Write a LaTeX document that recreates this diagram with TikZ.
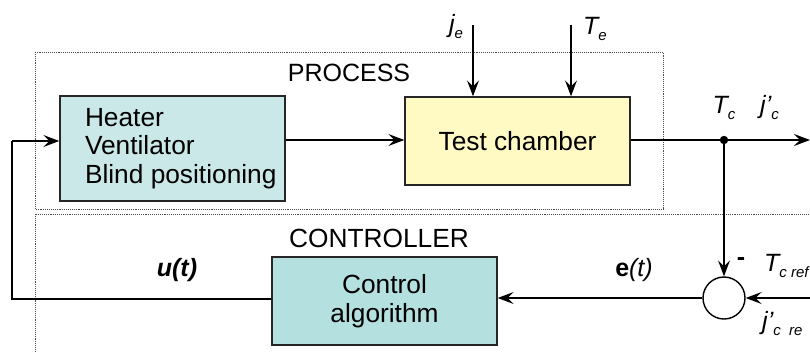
\documentclass[tikz,border=0pt]{standalone}
\usepackage{fontspec}
\setmainfont{Liberation Sans}
\usetikzlibrary{arrows.meta}
\definecolor{heatfill}{RGB}{203,232,232}
\definecolor{chamberfill}{RGB}{255,250,196}
\definecolor{ctrlfill}{RGB}{180,224,224}
\newcommand{\bigtxt}{\fontsize{25}{28.75}\selectfont}
\newcommand{\blocktxt}{\fontsize{26.3}{28.75}\selectfont}
\newcommand{\subtxt}{\fontsize{15}{15}\selectfont}
\tikzset{
  block/.style={draw=black!85, line width=1.4pt, minimum width=225pt, inner sep=0pt, font=\blocktxt},
  region/.style={draw=black!70, densely dotted, line width=0.9pt},
  wire/.style={line width=1.4pt},
  flow/.style={wire, -{Stealth[length=16pt,width=12pt,inset=6pt]}},
  lbl/.style={font=\bigtxt, inner sep=0pt},
}
\begin{document}
\begin{tikzpicture}[x=1pt,y=-1pt]
\useasboundingbox (0,0) rectangle (810,351);
\clip (0,0) rectangle (810,351);
% process and controller regions
\draw[region] (35,52) rectangle (663,209);
\draw[region] (35,214) rectangle (840,380);
\node[lbl] (proclbl) at (349,73) {PROCESS};
\node[lbl, font=\blocktxt] (ctrllbl) at (379,238) {CONTROLLER};
% blocks
\node[block, fill=heatfill, minimum height=105pt, align=flush left, text width=175pt] (act) at (172.5,148.5)
  {\hbadness=10000 \hfuzz=100pt Heater\\Ventilator\\\mbox{Blind positioning}};
\node[block, fill=chamberfill, minimum height=88pt] (cham) at (517.5,141) {Test chamber};
\node[block, fill=ctrlfill, minimum height=88pt, align=center] (alg) at (384.5,301) {Control\\algorithm};
% summing junction
\node[draw, line width=1.4pt, circle, minimum size=42pt, inner sep=0pt] (sum) at (724,298) {};
\fill (724,140) circle (4.2pt) coordinate (tap);
% disturbance inputs
\coordinate (jein) at (473,25);
\coordinate (tein) at (571,25);
\draw[flow] (jein) -- (jein |- cham.north);
\draw[flow] (tein) -- (tein |- cham.north);
\node[lbl] (jelbl) at (456,27) {\itshape j\raisebox{-6pt}{\subtxt e}};
\node[lbl] (telbl) at (595,29) {\itshape T\raisebox{-6pt}{\subtxt e}};
% forward path
\draw[flow] (act.east |- 0,140) -- (cham.west |- 0,140);
\coordinate (outend) at (810,140);
\draw[flow] (cham.east |- 0,140) -- (outend);
\draw[flow] (tap) -- (sum.north);
\node[lbl] (tclbl) at (724,108) {\itshape T\raisebox{-6pt}{\subtxt c}};
\node[lbl, anchor=west] (jclbl) at (760,108) {\itshape j'\raisebox{-6pt}{\subtxt c}};
% reference input
\coordinate (refin) at (812,298);
\draw[flow] (refin) -- (sum.east);
\node[lbl, font=\bigtxt\bfseries] (minus) at (741,262) {-};
\node[lbl, anchor=west] (tref) at (764,266) {\itshape T\raisebox{-6pt}{\subtxt c ref}};
\node[lbl, anchor=west] (jref) at (762,324) {\itshape j'\raisebox{-6pt}{\subtxt c \ re}};
% error to controller
\draw[flow] (sum.west) -- (alg.east |- sum.west);
\node[lbl] (elbl) at (634,270) {\textbf{e}\textit{(t)}};
% feedback of the control signal
\coordinate (lcorner) at (12,299);
\coordinate (ucorner) at (12,141);
\draw[wire] (alg.west |- 0,299) -- (lcorner) -- (ucorner);
\draw[flow] (ucorner) -- (act.west |- ucorner);
\node[lbl] (ulbl) at (177,270) {\bfseries\itshape u(t)};
\end{tikzpicture}
\end{document}
